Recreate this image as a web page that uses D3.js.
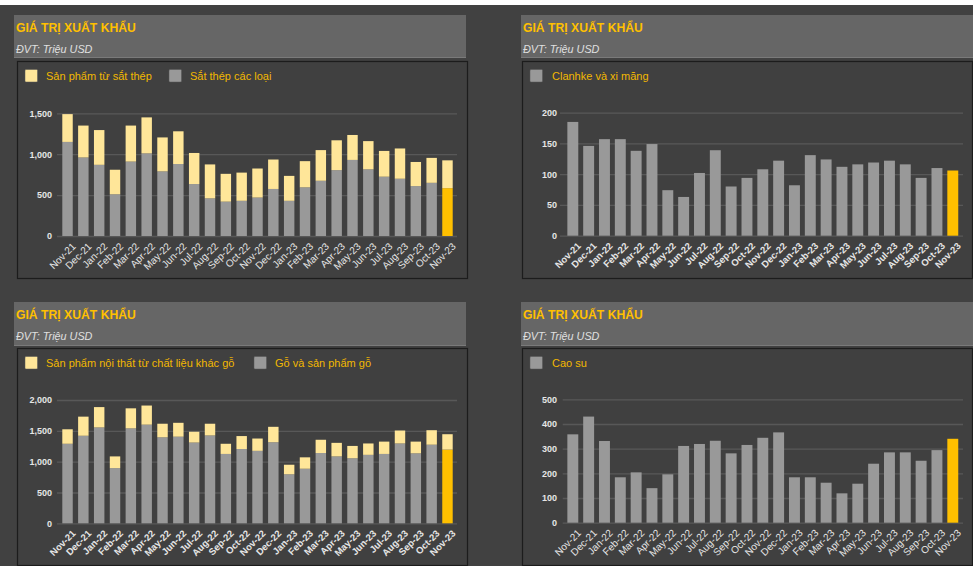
<!DOCTYPE html>
<html>
<head>
<meta charset="utf-8">
<script src="https://cdn.jsdelivr.net/npm/d3@7"></script>
<style>
  html, body { margin: 0; padding: 0; background: #ffffff; }
  svg { display: block; font-family: "Liberation Sans", Arial, sans-serif; }
</style>
</head>
<body>
<svg id="chart" width="973" height="566"></svg>
<script>
// ---------------- DATA ----------------
const months = ["Nov-21","Dec-21","Jan-22","Feb-22","Mar-22","Apr-22","May-22","Jun-22","Jul-22","Aug-22","Sep-22","Oct-22","Nov-22","Dec-22","Jan-23","Feb-23","Mar-23","Apr-23","May-23","Jun-23","Jul-23","Aug-23","Sep-23","Oct-23","Nov-23"];

// Panel 1 (stacked): Sắt thép các loại (bottom) + Sản phẩm từ sắt thép (top)
const steel         = [1150, 960, 870, 510, 910, 1010, 790, 880, 635, 460, 420, 430, 470, 575, 430, 595, 675, 805, 930, 815, 725, 700, 610, 650, 585];
const steelProducts = [ 340, 390, 425, 300, 440,  440, 415, 400, 380, 415, 340, 345, 355, 360, 305, 320, 375, 365, 305, 345, 315, 370, 295, 305, 340];

// Panel 2: Clanhke và xi măng
const cement = [185, 146, 157, 157, 138, 149, 74, 63, 102, 139, 80, 94, 108, 122, 82, 131, 124, 112, 116, 119, 122, 116, 94, 110, 106];

// Panel 3 (stacked): Gỗ và sản phẩm gỗ (bottom) + Sản phẩm nội thất từ chất liệu khác gỗ (top)
const wood           = [1290, 1420, 1555, 895, 1540, 1600, 1395, 1405, 1310, 1425, 1125, 1205, 1175, 1315, 795, 885, 1140, 1085, 1055, 1110, 1125, 1295, 1135, 1275, 1195];
const furnitureOther = [ 235,  310,  330, 190,  325,  310,  220,  225,  175,  190,  165,  210,  200,  250, 155, 185,  215,  220,  200,  185,  200,  210,  190,  235,  250];

// Panel 4: Cao su
const rubber = [358, 430, 331, 184, 204, 140, 196, 311, 319, 332, 281, 315, 344, 366, 184, 184, 162, 119, 158, 239, 285, 285, 251, 294, 340];

const ticks1 = [0, 500, 1000, 1500];
const ticks2 = [0, 50, 100, 150, 200];
const ticks3 = [0, 500, 1000, 1500, 2000];
const ticks4 = [0, 100, 200, 300, 400, 500];

const titleText = "GIÁ TRỊ XUẤT KHẨU";
const unitText = "ĐVT: Triệu USD";

// ---------------- STYLE ----------------
const C = {
  bg: "#414141",
  header: "#666666",
  headerLine: "#7a7a7a",
  box: "#404040",
  boxBorder: "#1c1c1c",
  gray: "#999999",
  light: "#FFE699",
  gold: "#FFC000",
  grid: "#585858",
  text: "#e6e6e6",
  title: "#FFC000",
  legend: "#F2B800"
};

const svg = d3.select("#chart");
svg.append("rect").attr("x", 0).attr("y", 5).attr("width", 973).attr("height", 561).attr("fill", C.bg);

const fmt = d3.format(",");

function panel(cfg) {
  const g = svg.append("g");
  // header
  g.append("rect").attr("x", cfg.hx).attr("y", cfg.hy).attr("width", cfg.hw).attr("height", cfg.hh).attr("fill", C.header);
  g.append("line").attr("x1", cfg.hx).attr("x2", cfg.hx + cfg.hw).attr("y1", cfg.hy + cfg.hh - 0.5).attr("y2", cfg.hy + cfg.hh - 0.5)
    .attr("stroke", C.headerLine).attr("stroke-width", 1);
  g.append("text").attr("x", cfg.hx + 2).attr("y", cfg.hy + 16.5).text(titleText)
    .attr("fill", C.title).attr("font-size", 12.2).attr("font-weight", "bold");
  g.append("text").attr("x", cfg.hx + 2).attr("y", cfg.hy + 37.5).text(unitText)
    .attr("fill", "#e0e0e0").attr("font-size", 10.8).attr("font-style", "italic");

  // chart box
  g.append("rect").attr("x", cfg.bx + 0.5).attr("y", cfg.by + 0.5).attr("width", cfg.bw).attr("height", cfg.bh)
    .attr("fill", C.box).attr("stroke", C.boxBorder).attr("stroke-width", 1.2);

  // legend
  cfg.legend.forEach(l => {
    g.append("rect").attr("x", l.x).attr("y", cfg.ly).attr("width", 12.5).attr("height", 12.5).attr("rx", 1)
      .attr("fill", l.color).attr("stroke", "#555").attr("stroke-width", 0.5);
    g.append("text").attr("x", l.tx).attr("y", cfg.ly + 10).text(l.label)
      .attr("fill", C.legend).attr("font-size", 11).attr("font-weight", "normal");
  });

  // scales
  const x = d3.scaleBand().domain(months).range(cfg.xr).paddingInner(cfg.pad).paddingOuter(cfg.pad / 2);
  const y = d3.scaleLinear().domain([0, cfg.yMax]).range([cfg.y0, cfg.yTop]);

  // y axis with gridlines
  const yAxis = d3.axisLeft(y).tickValues(cfg.ticks).tickFormat(fmt)
    .tickSizeInner(-(cfg.gx[1] - cfg.gx[0])).tickSizeOuter(0).tickPadding(cfg.gx[0] - cfg.ylx);
  const ya = g.append("g").attr("transform", `translate(${cfg.gx[0]},0)`).call(yAxis);
  ya.select(".domain").remove();
  ya.selectAll(".tick line").attr("stroke", C.grid).attr("stroke-width", 1.3);
  ya.selectAll(".tick text").attr("fill", C.text).attr("font-size", 9).attr("font-weight", "bold")
    .attr("font-family", "Liberation Sans, Arial, sans-serif");

  // bars
  const last = months.length - 1;
  const bars = g.append("g");
  bars.selectAll("rect.base").data(cfg.base).join("rect").attr("class", "base")
    .attr("x", (d, i) => x(months[i])).attr("width", x.bandwidth())
    .attr("y", d => y(d)).attr("height", d => cfg.y0 - y(d))
    .attr("fill", (d, i) => i === last ? C.gold : C.gray);
  if (cfg.top) {
    bars.selectAll("rect.top").data(cfg.top).join("rect").attr("class", "top")
      .attr("x", (d, i) => x(months[i])).attr("width", x.bandwidth())
      .attr("y", (d, i) => y(cfg.base[i] + d)).attr("height", (d, i) => y(cfg.base[i]) - y(cfg.base[i] + d))
      .attr("fill", C.light);
  }

  // x axis
  const xAxis = d3.axisBottom(x).tickSize(0).tickPadding(0);
  const xa = g.append("g").attr("transform", `translate(0,${cfg.y0})`).call(xAxis);
  xa.select(".domain").remove();
  xa.selectAll(".tick text")
    .attr("fill", C.text).attr("font-size", cfg.xfs).attr("font-weight", cfg.xWeight)
    .attr("font-family", "Liberation Sans, Arial, sans-serif")
    .attr("text-anchor", "end")
    .attr("transform", "translate(4,6) rotate(-45)")
    .attr("dy", "0.7em").attr("y", 0);
}

panel({
  hx: 14, hy: 15, hw: 452, hh: 43,
  bx: 17, by: 61, bw: 450, bh: 217,
  ly: 69.5,
  legend: [
    { x: 25, tx: 46, color: C.light, label: "Sản phẩm từ sắt thép" },
    { x: 169, tx: 190, color: C.gray, label: "Sắt thép các loại" }
  ],
  xr: [59.6, 455.4], pad: 0.34,
  y0: 236, yTop: 113.3, yMax: 1500, ticks: ticks1,
  gx: [57, 457], ylx: 52,
  base: steel, top: steelProducts, xfs: 10, xWeight: "normal"
});

panel({
  hx: 521, hy: 15, hw: 460, hh: 43,
  bx: 522, by: 61, bw: 450, bh: 217,
  ly: 69.5,
  legend: [
    { x: 530, tx: 552, color: C.gray, label: "Clanhke và xi măng" }
  ],
  xr: [564.9, 960.7], pad: 0.31,
  y0: 235.7, yTop: 112.7, yMax: 200, ticks: ticks2,
  gx: [560, 963], ylx: 557,
  base: cement, top: null, xfs: 9.5, xWeight: "bold"
});

panel({
  hx: 14, hy: 302, hw: 452, hh: 44,
  bx: 17, by: 348, bw: 450, bh: 217,
  ly: 356.5,
  legend: [
    { x: 25, tx: 46, color: C.light, label: "Sản phẩm nội thất từ chất liệu khác gỗ" },
    { x: 254, tx: 275, color: C.gray, label: "Gỗ và sản phẩm gỗ" }
  ],
  xr: [59.6, 455.4], pad: 0.34,
  y0: 523.3, yTop: 400, yMax: 2000, ticks: ticks3,
  gx: [57, 457], ylx: 52,
  base: wood, top: furnitureOther, xfs: 9.5, xWeight: "bold"
});

panel({
  hx: 521, hy: 302, hw: 460, hh: 44,
  bx: 522, by: 348, bw: 450, bh: 217,
  ly: 356.5,
  legend: [
    { x: 530, tx: 552, color: C.gray, label: "Cao su" }
  ],
  xr: [564.9, 960.7], pad: 0.31,
  y0: 522.7, yTop: 399.3, yMax: 500, ticks: ticks4,
  gx: [562.7, 963], ylx: 557,
  base: rubber, top: null, xfs: 10, xWeight: "normal"
});
</script>
</body>
</html>
